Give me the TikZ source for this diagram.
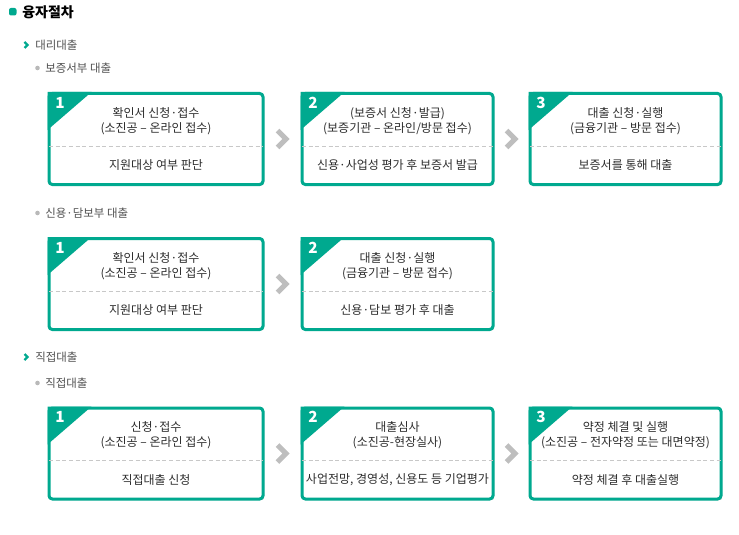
\documentclass[tikz,border=0pt]{standalone}
\usepackage{fontspec}
\setmainfont{Noto Sans CJK KR}
\usetikzlibrary{calc,shadows}
\definecolor{jade}{RGB}{0,169,143}
\definecolor{ink}{RGB}{45,45,45}
\definecolor{subink}{RGB}{80,80,80}
\definecolor{chevgray}{RGB}{190,190,190}
\definecolor{dotgray}{RGB}{185,185,185}
\definecolor{sepgray}{RGB}{200,200,200}

\begin{document}
\begin{tikzpicture}[x=0.75pt, y=-0.75pt,
    every node/.style={inner sep=0pt},
    card/.style={draw=jade, line width=2.25pt, rounded corners=2.5pt, fill=white,
        minimum width=143.25pt, minimum height=68.25pt,
        drop shadow={shadow xshift=0.9pt, shadow yshift=-0.9pt, opacity=0.22, fill=black}},
    widecard/.style={card, minimum width=160.5pt},
    title/.style={align=center, text=ink, font=\fontsize{9}{11.25}\selectfont},
    desc/.style={text=ink, font=\fontsize{9}{11}\selectfont},
    num/.style={text=white, font=\bfseries\fontsize{11.5}{13}\selectfont},
    sep/.style={draw=sepgray, line width=0.75pt, dash pattern=on 3pt off 2pt},
    chevron/.style={draw=chevgray, line width=3.8pt, miter limit=10},
    head/.style={anchor=west, text=subink, font=\fontsize{8.6}{10}\selectfont}]
\useasboundingbox (0,0) rectangle (739,535);

% heading
\fill[jade, rounded corners=1.5pt] (9,8) rectangle (16.5,15.5);
\node[anchor=west, font=\bfseries\fontsize{10.5}{12}\selectfont] (main) at (22,12) {융자절차};

\draw[jade, line width=1.6pt] (24.5,42) -- (27.5,45) -- (24.5,48);
\node[head] (agency) at (35,45) {대리대출};
\fill[dotgray] (37.5,68) circle (2.3);
\node[head] (bond) at (45,68) {보증서부 대출};
\fill[dotgray] (37.5,213) circle (2.3);
\node[head] (credit) at (45,213) {신용·담보부 대출};
\draw[jade, line width=1.6pt] (24.5,354) -- (27.5,357) -- (24.5,360);
\node[head] (direct) at (35,357) {직접대출};
\fill[dotgray] (37.5,383) circle (2.3);
\node[head] (directsub) at (45,383) {직접대출};

% cards
\node[widecard] (b11) at (156,139) {};
\node[card] (b12) at (397.5,139) {};
\node[card] (b13) at (625.5,139) {};
\node[widecard] (b21) at (156,284) {};
\node[card] (b22) at (397.5,284) {};
\node[widecard] (b31) at (156,453.5) {};
\node[card] (b32) at (397.5,453.5) {};
\node[card] (b33) at (625.5,453.5) {};

\foreach \b/\n in {b11/1,b12/2,b13/3,b21/1,b22/2,b31/1,b32/2,b33/3}{
    \fill[jade] (\b.north west) -- ++(44,0) -- ++(-44,38) -- cycle;
    \node[num] at ($(\b.north west)+(12.5,10.5)$) {\n};
    \draw[sep] ($(\b.west)+(1.5,7)$) -- ($(\b.east)+(-1.5,7)$);
}

\node[title] (t11) at ($(b11.center)+(0,-18)$) {확인서 신청·접수\\(소진공 – 온라인 접수)};
\node[desc] (d11) at ($(b11.center)+(0,26)$) {지원대상 여부 판단};
\node[title] (t12) at ($(b12.center)+(0,-18)$) {(보증서 신청·발급)\\(보증기관 – 온라인/방문 접수)};
\node[desc] (d12) at ($(b12.center)+(0,26)$) {신용·사업성 평가 후 보증서 발급};
\node[title] (t13) at ($(b13.center)+(0,-18)$) {대출 신청·실행\\(금융기관 – 방문 접수)};
\node[desc] (d13) at ($(b13.center)+(0,26)$) {보증서를 통해 대출};

\node[title] (t21) at ($(b21.center)+(0,-18)$) {확인서 신청·접수\\(소진공 – 온라인 접수)};
\node[desc] (d21) at ($(b21.center)+(0,26)$) {지원대상 여부 판단};
\node[title] (t22) at ($(b22.center)+(0,-18)$) {대출 신청·실행\\(금융기관 – 방문 접수)};
\node[desc] (d22) at ($(b22.center)+(0,26)$) {신용·담보 평가 후 대출};

\node[title] (t31) at ($(b31.center)+(0,-18)$) {신청·접수\\(소진공 – 온라인 접수)};
\node[desc] (d31) at ($(b31.center)+(0,26)$) {직접대출 신청};
\node[title] (t32) at ($(b32.center)+(0,-18)$) {대출심사\\(소진공-현장실사)};
\node[desc] (d32) at ($(b32.center)+(0,26)$) {사업전망, 경영성, 신용도 등 기업평가};
\node[title] (t33) at ($(b33.center)+(0,-18)$) {약정 체결 및 실행\\(소진공 – 전자약정 또는 대면약정)};
\node[desc] (d33) at ($(b33.center)+(0,26)$) {약정 체결 후 대출실행};

\foreach \a/\b in {b11/b12,b12/b13,b21/b22,b31/b32,b32/b33}
    \draw[chevron] ($(\a.east)!0.5!(\b.west)$) ++(-5,-8.5) -- ++(8.5,8.5) -- ++(-8.5,8.5);
\end{tikzpicture}
\end{document}
